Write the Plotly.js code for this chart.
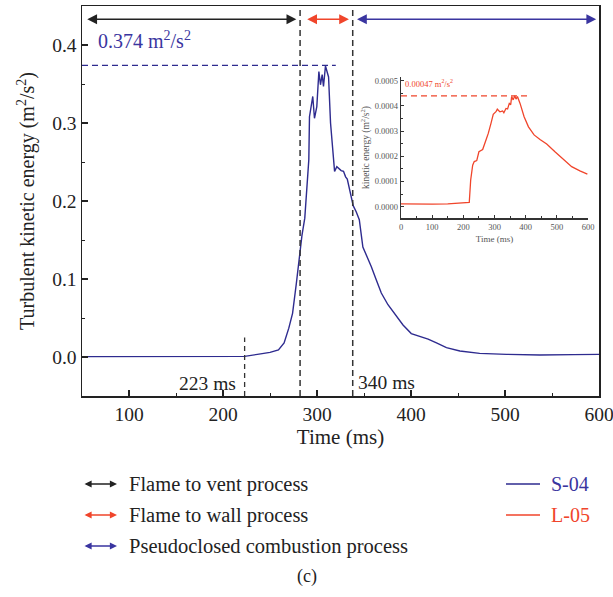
<!DOCTYPE html>
<html>
<head>
<meta charset="utf-8">
<script src="https://cdn.plot.ly/plotly-3.0.1.min.js"></script>
<style>html,body{margin:0;padding:0;background:#fff;}#plot{width:613px;height:597px;}</style>
</head>
<body>
<div id="plot"></div>
<script>
// S-04 turbulent kinetic energy (main chart)
const s04Time = [50, 100, 150, 200, 223, 240, 250, 259, 265, 270, 274, 278, 281, 284, 287, 289, 291.3, 292, 293.8, 295.5, 297.3, 299.8, 302, 303.7, 305.5, 306.9, 309, 310.8, 312.3, 314.4, 316.2, 318.7, 321.1, 323.2, 325.7, 328.2, 330.4, 332.2, 335.3, 338.5, 341.8, 345, 348.8, 352.4, 357.7, 363, 368.4, 375.5, 382.6, 391.5, 400.3, 409.3, 418.2, 427.1, 437.7, 452, 473, 501.7, 537, 572.7, 600];
const s04Energy = [0.0005, 0.0005, 0.0006, 0.0007, 0.0008, 0.004, 0.006, 0.009, 0.018, 0.037, 0.056, 0.094, 0.129, 0.156, 0.178, 0.215, 0.253, 0.308, 0.319, 0.334, 0.306, 0.321, 0.366, 0.349, 0.362, 0.347, 0.373, 0.366, 0.359, 0.300, 0.270, 0.238, 0.244, 0.242, 0.239, 0.238, 0.231, 0.228, 0.210, 0.194, 0.186, 0.176, 0.141, 0.131, 0.116, 0.099, 0.082, 0.067, 0.056, 0.041, 0.030, 0.026, 0.023, 0.018, 0.012, 0.0077, 0.0047, 0.0034, 0.0026, 0.003, 0.0034];

// L-05 kinetic energy (inset)
const l05Time = [0, 50, 100, 150, 200, 219, 223.6, 230, 235, 243, 250, 256.7, 262, 272.7, 280, 288.7, 296, 304.7, 309, 313, 317.5, 322, 326, 330, 336.8, 342, 347.5, 352, 355, 360, 365, 369, 373.6, 382, 395, 409, 427, 446, 467.5, 494, 521, 547.6, 574, 598];
const l05Energy = [0.000011, 0.00001, 0.00001, 0.000011, 0.000014, 0.000017, 0.000106, 0.000165, 0.000179, 0.000183, 0.000218, 0.000225, 0.000227, 0.000265, 0.000291, 0.000331, 0.000367, 0.000377, 0.000387, 0.000382, 0.000377, 0.000378, 0.00038, 0.000373, 0.00039, 0.000388, 0.00041, 0.000405, 0.000437, 0.000424, 0.00044, 0.000427, 0.000437, 0.00041, 0.000357, 0.000317, 0.000285, 0.000267, 0.000249, 0.000218, 0.000188, 0.000159, 0.000142, 0.000129];

// Marker times (ms) and peak levels
const ignitionTime = 223;
const phaseTimes = [282, 338];
const s04Peak = 0.374;
const s04PeakEnd = 320;
const l05PeakLine = 0.00044;
const l05PeakEnd = 408;

// Process arrows [start, end] in ms
const processNames = ["Flame to vent process", "Flame to wall process", "Pseudoclosed combustion process"];
const processSpans = [[54, 278], [288, 334], [341, 597]];
const processColors = ["#222222", "#f0452b", "#3a35a0"];
const arrowLevel = 0.433;

const seriesNames = ["S-04", "L-05"];
const seriesColors = ["#2e2b8f", "#f0452b"];
const seriesTextColors = ["#3a35a0", "#f0452b"];

const W = 613, H = 597;
const px = v => v / W;
const py = v => (H - v) / H;
const serif = "Liberation Serif, Times New Roman, serif";

const traces = [
  {x: s04Time, y: s04Energy, type: 'scatter', mode: 'lines', line: {color: seriesColors[0], width: 1.4}, xaxis: 'x', yaxis: 'y', hoverinfo: 'skip'},
  {x: [50, s04PeakEnd], y: [s04Peak, s04Peak], type: 'scatter', mode: 'lines', line: {color: seriesColors[0], width: 1.3, dash: '6px,4px'}, xaxis: 'x', yaxis: 'y'},
  {x: l05Time, y: l05Energy, type: 'scatter', mode: 'lines', line: {color: seriesColors[1], width: 1.3}, xaxis: 'x2', yaxis: 'y2'},
  {x: [0, l05PeakEnd], y: [l05PeakLine, l05PeakLine], type: 'scatter', mode: 'lines', line: {color: seriesColors[1], width: 1.3, dash: '6px,4px'}, xaxis: 'x2', yaxis: 'y2'}
];

const shapes = [
  {type: 'line', xref: 'x', yref: 'y', x0: ignitionTime, x1: ignitionTime, y0: -0.05, y1: 0.025, line: {color: '#333', width: 1.3, dash: '5px,4px'}},
  {type: 'line', xref: 'x', yref: 'y', x0: phaseTimes[0], x1: phaseTimes[0], y0: -0.05, y1: 0.45, line: {color: '#333', width: 1.5, dash: '6px,4px'}},
  {type: 'line', xref: 'x', yref: 'y', x0: phaseTimes[1], x1: phaseTimes[1], y0: -0.05, y1: 0.45, line: {color: '#333', width: 1.5, dash: '6px,4px'}}
];

const annotations = [];
processSpans.forEach((s, i) => {
  annotations.push({xref: 'x', yref: 'y', axref: 'x', ayref: 'y', x: s[1], y: arrowLevel, ax: s[0], ay: arrowLevel,
    text: '', showarrow: true, arrowside: 'end+start', arrowhead: 2, startarrowhead: 2, arrowsize: 1.4, startarrowsize: 1.4,
    arrowwidth: 1.4, arrowcolor: processColors[i], standoff: 0, startstandoff: 0});
  const ly = 484 + i * 31;
  annotations.push({xref: 'paper', yref: 'paper', x: px(117), y: py(ly), ax: -34, ay: 0, text: '', showarrow: true,
    arrowside: 'end+start', arrowhead: 2, startarrowhead: 2, arrowsize: 1.1, startarrowsize: 1.1, arrowwidth: 1.3,
    arrowcolor: processColors[i], standoff: 0, startstandoff: 0});
  annotations.push({xref: 'paper', yref: 'paper', x: px(127), y: py(ly), xanchor: 'left', yanchor: 'middle', showarrow: false,
    text: processNames[i], font: {family: serif, size: 20.5, color: '#222'}});
});
seriesNames.forEach((n, i) => {
  const ly = 484 + i * 31;
  shapes.push({type: 'line', xref: 'paper', yref: 'paper', x0: px(506), x1: px(540), y0: py(ly), y1: py(ly), line: {color: seriesColors[i], width: 1.3}});
  annotations.push({xref: 'paper', yref: 'paper', x: px(549), y: py(ly), xanchor: 'left', yanchor: 'middle', showarrow: false,
    text: n, font: {family: serif, size: 20, color: seriesTextColors[i]}});
});
annotations.push({xref: 'x', yref: 'y', x: 65, y: 0.406, xanchor: 'left', yanchor: 'middle', showarrow: false,
  text: s04Peak.toFixed(3) + ' m<sup>2</sup>/s<sup>2</sup>', font: {family: serif, size: 20, color: '#3a35a0'}});
annotations.push({xref: 'x', yref: 'y', x: ignitionTime - 7, y: -0.034, xanchor: 'right', yanchor: 'middle', showarrow: false,
  text: ignitionTime + ' ms', font: {family: serif, size: 19.5, color: '#222'}});
annotations.push({xref: 'x', yref: 'y', x: phaseTimes[1] + 4, y: -0.033, xanchor: 'left', yanchor: 'middle', showarrow: false,
  text: '340 ms', font: {family: serif, size: 19.5, color: '#222'}});
annotations.push({xref: 'x2', yref: 'y2', x: 8, y: 0.00049, xanchor: 'left', yanchor: 'middle', showarrow: false,
  text: '0.00047 m<sup>2</sup>/s<sup>2</sup>', font: {family: serif, size: 8.5, color: '#f0452b'}});
annotations.push({xref: 'paper', yref: 'paper', x: px(307), y: py(576), xanchor: 'center', yanchor: 'middle', showarrow: false,
  text: '(c)', font: {family: serif, size: 18, color: '#222'}});

const layout = {
  width: W, height: H,
  margin: {l: 0, r: 0, t: 0, b: 0},
  paper_bgcolor: '#fff', plot_bgcolor: 'rgba(0,0,0,0)',
  showlegend: false,
  font: {family: serif, color: '#222'},
  xaxis: {
    domain: [px(82), px(599)], range: [50, 600], dtick: 100, tick0: 0,
    ticks: 'inside', ticklen: 6, tickwidth: 1.2, tickcolor: '#222',
    minor: {dtick: 50, ticks: 'inside', ticklen: 3, tickwidth: 1, tickcolor: '#222'},
    showline: true, linecolor: '#222', linewidth: 1.5, mirror: true,
    showgrid: false, zeroline: false, ticklabeloverflow: 'allow',
    tickfont: {family: serif, size: 19.5, color: '#222'},
    title: {text: 'Time (ms)', font: {family: serif, size: 21, color: '#222'}, standoff: 4},
    anchor: 'y'
  },
  yaxis: {
    domain: [py(396), py(6)], range: [-0.05, 0.45], dtick: 0.1, tick0: 0, tickformat: '.1f',
    ticks: 'inside', ticklen: 6, tickwidth: 1.2, tickcolor: '#222',
    minor: {dtick: 0.05, ticks: 'inside', ticklen: 3, tickwidth: 1, tickcolor: '#222'},
    showline: true, linecolor: '#222', linewidth: 1.5, mirror: true,
    showgrid: false, zeroline: false,
    tickfont: {family: serif, size: 19.5, color: '#222'},
    title: {text: 'Turbulent kinetic energy (m<sup>2</sup>/s<sup>2</sup>)', font: {family: serif, size: 20, color: '#222'}, standoff: 12},
    anchor: 'x'
  },
  xaxis2: {
    domain: [px(401), px(588)], range: [0, 600], dtick: 100, tick0: 0,
    ticks: 'inside', ticklen: 3, tickwidth: 1, tickcolor: '#333',
    minor: {dtick: 50, ticks: 'inside', ticklen: 2, tickwidth: 1, tickcolor: '#333'},
    showline: true, linecolor: '#333', linewidth: 1.3, mirror: false,
    showgrid: false, zeroline: false,
    tickfont: {family: serif, size: 8.5, color: '#555'},
    title: {text: 'Time (ms)', font: {family: serif, size: 9, color: '#555'}, standoff: 5},
    anchor: 'y2'
  },
  yaxis2: {
    domain: [py(218.3), py(76.7)], range: [-0.000046, 0.000516], dtick: 0.0001, tick0: 0, tickformat: '.4f',
    ticks: 'inside', ticklen: 3, tickwidth: 1, tickcolor: '#333',
    minor: {dtick: 0.00005, ticks: 'inside', ticklen: 2, tickwidth: 1, tickcolor: '#333'},
    showline: true, linecolor: '#333', linewidth: 1.3, mirror: false,
    showgrid: false, zeroline: false,
    tickfont: {family: serif, size: 8.5, color: '#555'},
    title: {text: 'kinetic energy (m<sup>2</sup>/s<sup>2</sup>)', font: {family: serif, size: 9.5, color: '#555'}, standoff: 3},
    anchor: 'x2'
  },
  shapes: shapes,
  annotations: annotations
};

Plotly.newPlot('plot', traces, layout, {staticPlot: true, displayModeBar: false});
</script>
</body>
</html>
